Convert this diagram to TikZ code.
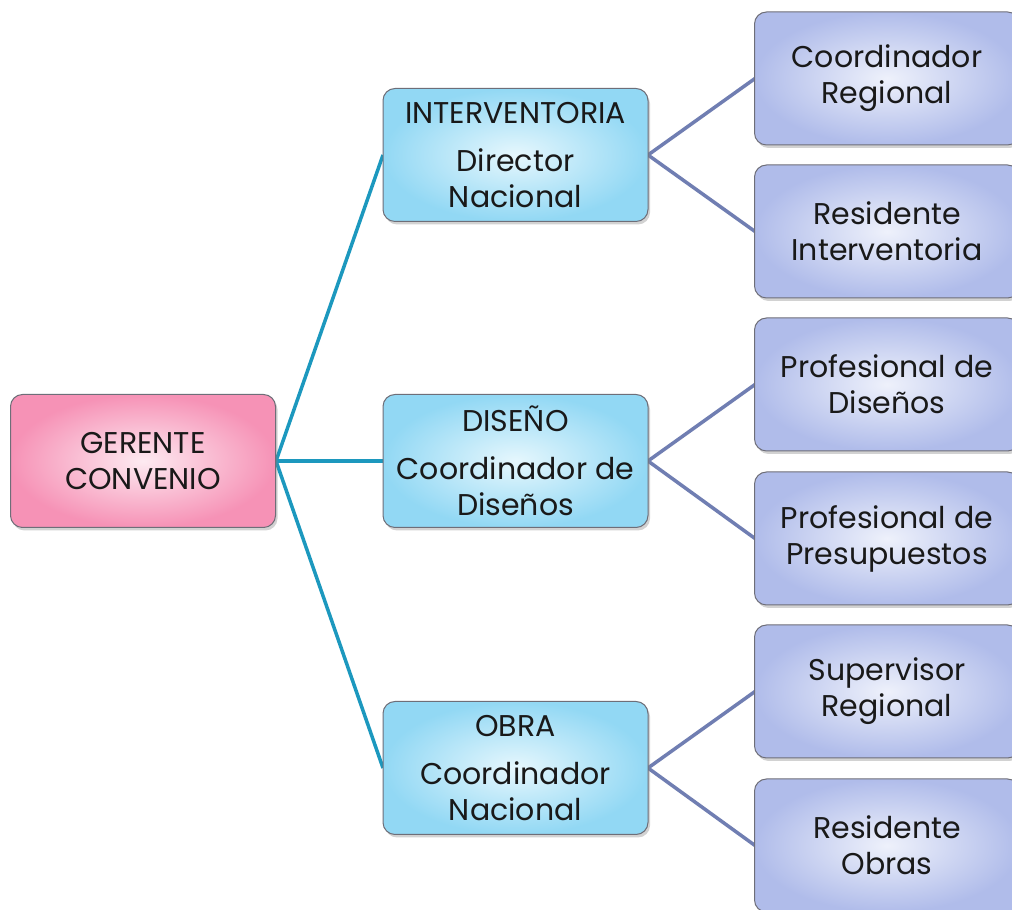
\documentclass[tikz,border=0pt]{standalone}
\usepackage{fontspec}
\setmainfont{Poppins}
\usetikzlibrary{shadows}
\definecolor{pinkedge}{RGB}{246,146,182}
\definecolor{pinkcore}{RGB}{253,234,241}
\definecolor{blueedge}{RGB}{146,216,244}
\definecolor{bluecore}{RGB}{230,247,253}
\definecolor{lavedge}{RGB}{176,188,234}
\definecolor{lavcore}{RGB}{238,241,251}
\definecolor{tealline}{RGB}{28,152,190}
\definecolor{slateline}{RGB}{112,126,178}
\definecolor{boxrim}{RGB}{110,110,120}
\definecolor{inktext}{RGB}{25,25,25}
\tikzset{
  orgbox/.style={draw=boxrim, line width=1pt, rounded corners=12pt,
    minimum width=265pt, minimum height=133pt, align=center, inner sep=2pt,
    text=inktext, font=\fontsize{30}{36}\selectfont, shading=radial,
    drop shadow={shadow xshift=2pt, shadow yshift=-3pt, opacity=0.35}},
  headbox/.style={orgbox, inner color=pinkcore, outer color=pinkedge},
  unitbox/.style={orgbox, inner color=bluecore, outer color=blueedge},
  staffbox/.style={orgbox, inner color=lavcore, outer color=lavedge},
  topline/.style={draw=tealline, line width=3.5pt},
  subline/.style={draw=slateline, line width=3.5pt}
}
\begin{document}
\begin{tikzpicture}[x=1pt,y=1pt]
\useasboundingbox (0,0) rectangle (1012,910);
\path[fill=white] (0,0) rectangle (1012,910);
% connectors first, boxes on top:
\coordinate (gE) at (276,449);
\coordinate (iW) at (383,755);
\coordinate (dW) at (383,449);
\coordinate (oW) at (383,142);
\coordinate (iE) at (648,755);
\coordinate (dE) at (648,449);
\coordinate (oE) at (648,142);
\coordinate (crW) at (755,831.5);
\coordinate (riW) at (755,678.5);
\coordinate (pdW) at (755,525.5);
\coordinate (ppW) at (755,371.5);
\coordinate (srW) at (755,218.5);
\coordinate (roW) at (755,64.5);
\draw[topline] (iW) -- (gE) -- (oW);
\draw[topline] (gE) -- (dW);
\draw[subline] (crW) -- (iE) -- (riW);
\draw[subline] (pdW) -- (dE) -- (ppW);
\draw[subline] (srW) -- (oE) -- (roW);
% level 1:
\node[headbox] (gerente) at (143,449) {GERENTE\\CONVENIO};
% level 2:
\node[unitbox] (interv) at (515.5,755) {INTERVENTORIA\\[12pt]Director\\Nacional};
\node[unitbox] (diseno) at (515.5,449) {DISEÑO\\[12pt]Coordinador de\\Diseños};
\node[unitbox] (obra) at (515.5,142) {OBRA\\[12pt]Coordinador\\Nacional};
% level 3:
\node[staffbox] (coordreg) at (887,831.5) {Coordinador\\Regional};
\node[staffbox] (resint) at (887,678.5) {Residente\\Interventoria};
\node[staffbox] (profdis) at (887,525.5) {Profesional de\\Diseños};
\node[staffbox] (profpre) at (887,371.5) {Profesional de\\Presupuestos};
\node[staffbox] (superreg) at (887,218.5) {Supervisor\\Regional};
\node[staffbox] (resobr) at (887,64.5) {Residente\\Obras};
\end{tikzpicture}
\end{document}
